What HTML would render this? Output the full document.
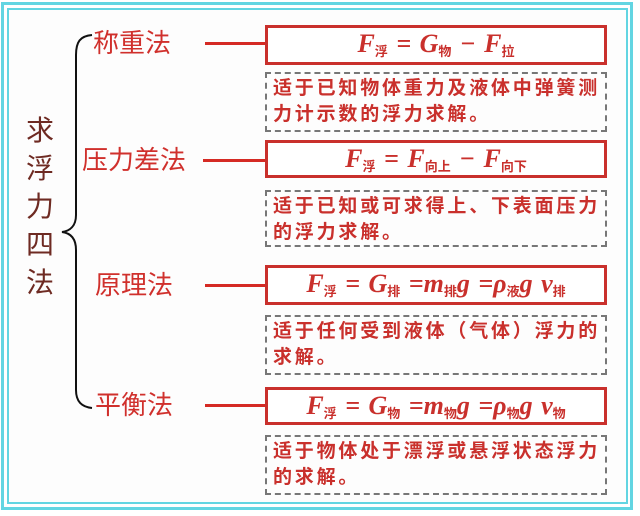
<!DOCTYPE html>
<html><head><meta charset="utf-8"><style>
body{margin:0;width:640px;height:516px;background:#fff;position:relative;overflow:hidden;font-family:"Liberation Sans","Noto Sans CJK SC",sans-serif}
.a{position:absolute}
.outer{left:1px;top:2px;width:632px;height:508px;border:3px solid #62d5e2;box-sizing:border-box}
.inner{left:7px;top:8px;width:621px;height:496px;border:2px solid #62d5e2;box-sizing:border-box;background:#fdfdfd}
.lab{color:#d0302c;font-size:26px;line-height:30px;white-space:nowrap}
.line{height:3px;background:#d52a24}
.box{left:265px;width:342px;height:38px;border:3px solid #c9302c;box-sizing:border-box;background:#fff;text-align:center;font-family:"Liberation Serif","Noto Serif CJK SC",serif;font-style:italic;font-weight:bold;font-size:26px;line-height:32px;color:#c9302c;white-space:nowrap;word-spacing:2px}
.box sub{font-size:13px;font-style:normal;font-family:"Noto Sans CJK SC",sans-serif;vertical-align:-4px}
.d{left:265px;width:342px;border:2px dashed #777;box-sizing:border-box;color:#c9302c;font-size:19px;line-height:26px;font-weight:bold;padding:2px 0 0 6px;letter-spacing:2.8px}
</style></head><body>
<div class="a outer"></div><div class="a inner"></div>
<div class="a" style="left:24px;top:112px;width:32px;color:#6e2a22;font-size:28px;line-height:38px;text-align:center">求<br>浮<br>力<br>四<br>法</div>
<svg class="a" style="left:0;top:0" width="640" height="516"><path d="M92 35 C80 36 76 42 76 55 L76 215 C76 226 70 231 62 232 C70 233 76 238 76 250 L76 390 C76 402 82 407 92 408" fill="none" stroke="#111" stroke-width="2"/></svg>
<div class="a lab" style="left:93px;top:28px">称重法</div>
<div class="a lab" style="left:82px;top:145px">压力差法</div>
<div class="a lab" style="left:95px;top:270px">原理法</div>
<div class="a lab" style="left:95px;top:390px">平衡法</div>
<div class="a line" style="left:205px;top:42px;width:62px"></div>
<div class="a line" style="left:203px;top:159px;width:64px"></div>
<div class="a line" style="left:205px;top:284px;width:62px"></div>
<div class="a line" style="left:205px;top:404px;width:62px"></div>
<div class="a box" style="top:25px;height:40px">F<sub>浮</sub> = G<sub>物</sub> − F<sub>拉</sub></div>
<div class="a d" style="top:72px;height:60px">适于已知物体重力及液体中弹簧测力计示数的浮力求解。</div>
<div class="a box" style="top:140px">F<sub>浮</sub> = F<sub>向上</sub> − F<sub>向下</sub></div>
<div class="a d" style="top:190px;height:57px">适于已知或可求得上、下表面压力的浮力求解。</div>
<div class="a box" style="top:265px;height:40px">F<sub>浮</sub> = G<sub>排</sub> =m<sub>排</sub>g =ρ<sub>液</sub>g v<sub>排</sub></div>
<div class="a d" style="top:315px;height:60px">适于任何受到液体（气体）浮力的求解。</div>
<div class="a box" style="top:387px">F<sub>浮</sub> = G<sub>物</sub> =m<sub>物</sub>g =ρ<sub>物</sub>g v<sub>物</sub></div>
<div class="a d" style="top:435px;height:60px">适于物体处于漂浮或悬浮状态浮力的求解。</div>
</body></html>
